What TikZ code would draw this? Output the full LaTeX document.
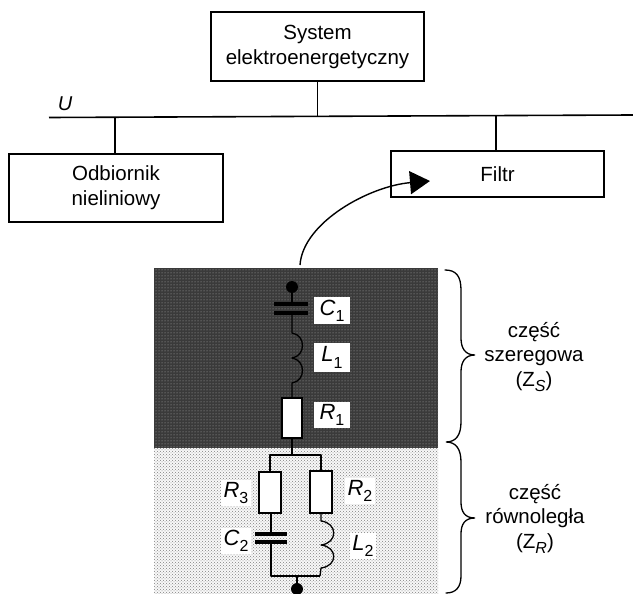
\documentclass[tikz,border=0pt]{standalone}
\usepackage{fontspec}
\setmainfont{Liberation Sans}
\usetikzlibrary{patterns,arrows.meta}
\definecolor{darkbase}{HTML}{3A3A3A}
\definecolor{darkdots}{HTML}{B0B0B0}
\definecolor{lightbase}{HTML}{F8F8F8}
\newcommand{\sym}[2]{\textit{#1}\raisebox{-.28em}{\fontsize{16}{16}\selectfont #2}}
\tikzset{
  x=1pt,y=-1pt,
  wire/.style={line width=1.3pt,black,line join=round},
  plate/.style={line width=3.2pt,black},
  block/.style={draw=black,line width=1.3pt,fill=white,inner sep=0pt,align=center,font=\fontsize{20.5}{25}\selectfont},
  res/.style={draw=black,line width=1.3pt,fill=white,minimum width=21pt,inner sep=0pt},
  tag/.style={fill=white,inner sep=0pt,minimum width=36pt,font=\fontsize{22}{24}\selectfont},
  softtag/.style={fill=white,inner sep=2.5pt,font=\fontsize{22}{24}\selectfont},
  note/.style={align=center,font=\fontsize{20.5}{24.5}\selectfont},
  dot/.style={circle,fill=black,minimum size=12pt,inner sep=0pt},
  brace/.style={line width=1.3pt,black,line cap=round}
}
\begin{document}
\begin{tikzpicture}
\useasboundingbox (0,0) rectangle (633,594);
\fill[white] (0,0) rectangle (633,594);
% shaded panels
\fill[darkbase] (154,268) rectangle (438,448);
\pattern[pattern=dots,pattern color=darkdots] (154,268) rectangle (438,448);
\fill[lightbase] (154,448) rectangle (438,594);
\pattern[pattern=crosshatch dots,pattern color=black!50] (154,448) rectangle (438,594);
% top blocks
\node[block,minimum width=213pt,minimum height=69pt] (sys) at (317.5,46.5) {System\\elektroenergetyczny};
\node[block,minimum width=214pt,minimum height=68pt] (odb) at (116,188) {Odbiornik\\nieliniowy};
\node[block,minimum width=213pt,minimum height=46pt] (fil) at (497.5,174) {Filtr};
% bus
\coordinate (busL) at (49,117.5);
\coordinate (busR) at (633,115);
\draw[line width=1.6pt] (busL) -- (busR);
\node[font=\fontsize{20}{24}\selectfont\itshape,inner sep=0pt] (u) at (65,104) {U};
\coordinate (j1) at (317.5,116);
\coordinate (j2) at (115,117.5);
\coordinate (j3) at (496,115.5);
\draw[wire] (sys.south) -- (j1);
\draw[wire] (j2) -- (odb.north -| j2);
\draw[wire] (j3) -- (fil.north -| j3);
% curved arrow
\coordinate (arrS) at (300,265);
\coordinate (arrE) at (430,181);
\draw[line width=1.4pt,-{Triangle[length=20pt,width=23pt]}] (arrS) .. controls (303,222) and (370,186) .. (arrE);
% series part
\node[dot] (top) at (292,287) {};
\coordinate (c1a) at (292,304);
\coordinate (c1b) at (292,313);
\coordinate (l1a) at (292,333);
\coordinate (l1m) at (292,358);
\coordinate (l1b) at (292,383);
\node[res,minimum height=40pt,minimum width=20pt] (r1) at (292,418) {};
\coordinate (fork) at (292,455);
\draw[wire] (top) -- (c1a);
\draw[plate] (274,304) -- (308,304) (274,313) -- (308,313);
\draw[wire] (c1b) -- (l1a)
  .. controls (306,335) and (306,356) .. (l1m)
  .. controls (306,360) and (306,381) .. (l1b) -- (r1.north);
\draw[line width=2.4pt] (r1.south) -- (fork);
\node[tag,minimum height=27pt] (lc1) at (332,310.5) {\sym{C}{1}};
\node[tag,minimum height=29pt] (ll1) at (332,357.5) {\sym{L}{1}};
\node[tag,minimum height=26pt] (lr1) at (332,415) {\sym{R}{1}};
% parallel part
\node[softtag] (lr3) at (236,493) {\sym{R}{3}};
\node[softtag] (lc2) at (236,541) {\sym{C}{2}};
\node[softtag] (lr2) at (360,491) {\sym{R}{2}};
\node[softtag] (ll2) at (363,546) {\sym{L}{2}};
\node[res,minimum height=41pt,minimum width=22pt] (r3) at (270,492.5) {};
\node[res,minimum height=42pt,minimum width=22pt] (r2) at (321,492) {};
\coordinate (c2a) at (271,534);
\coordinate (c2b) at (271,542);
\coordinate (l2a) at (321,521);
\coordinate (l2m) at (321,545);
\coordinate (l2b) at (321,568);
\coordinate (botL) at (271,576);
\coordinate (botR) at (320,576);
\node[dot] (bot) at (297,589) {};
\coordinate (botJ) at (297,576);
\draw[wire] (r3.north) |- (fork) -| (r2.north);
\draw[wire] (r3.south -| c2a) -- (c2a);
\draw[plate] (255,534) -- (287,534) (255,542) -- (287,542);
\draw[wire] (c2b) -- (botL) -- (botR);
\draw[wire] (r2.south) -- (l2a)
  .. controls (338,523) and (338,543) .. (l2m)
  .. controls (338,547) and (338,566) .. (l2b) -- (botR);
\draw[wire] (botJ) -- (bot);
% braces
\coordinate (b1t) at (445,270);
\coordinate (b1m) at (475,355);
\coordinate (b12) at (446,442);
\coordinate (b2m) at (475,518);
\coordinate (b2b) at (446,593);
\draw[brace] (b1t) .. controls (456,270) and (461,276) .. (461,290) -- (461,338)
  .. controls (461,348) and (465,355) .. (b1m)
  .. controls (465,355) and (461,362) .. (461,372) -- (461,422)
  .. controls (461,435) and (456,442) .. (b12)
  .. controls (456,442) and (461,449) .. (461,462) -- (461,502)
  .. controls (461,512) and (465,518) .. (b2m)
  .. controls (465,518) and (461,524) .. (461,534) -- (461,576)
  .. controls (461,587) and (456,593) .. (b2b);
% notes
\node[note] (n1) at (534,357) {część\\szeregowa\\(Z\raisebox{-.25em}{\fontsize{16}{16}\selectfont\itshape S})};
\node[note] (n2) at (535,519) {część\\równoległa\\(Z\raisebox{-.25em}{\fontsize{16}{16}\selectfont\itshape R})};
\end{tikzpicture}
\end{document}
